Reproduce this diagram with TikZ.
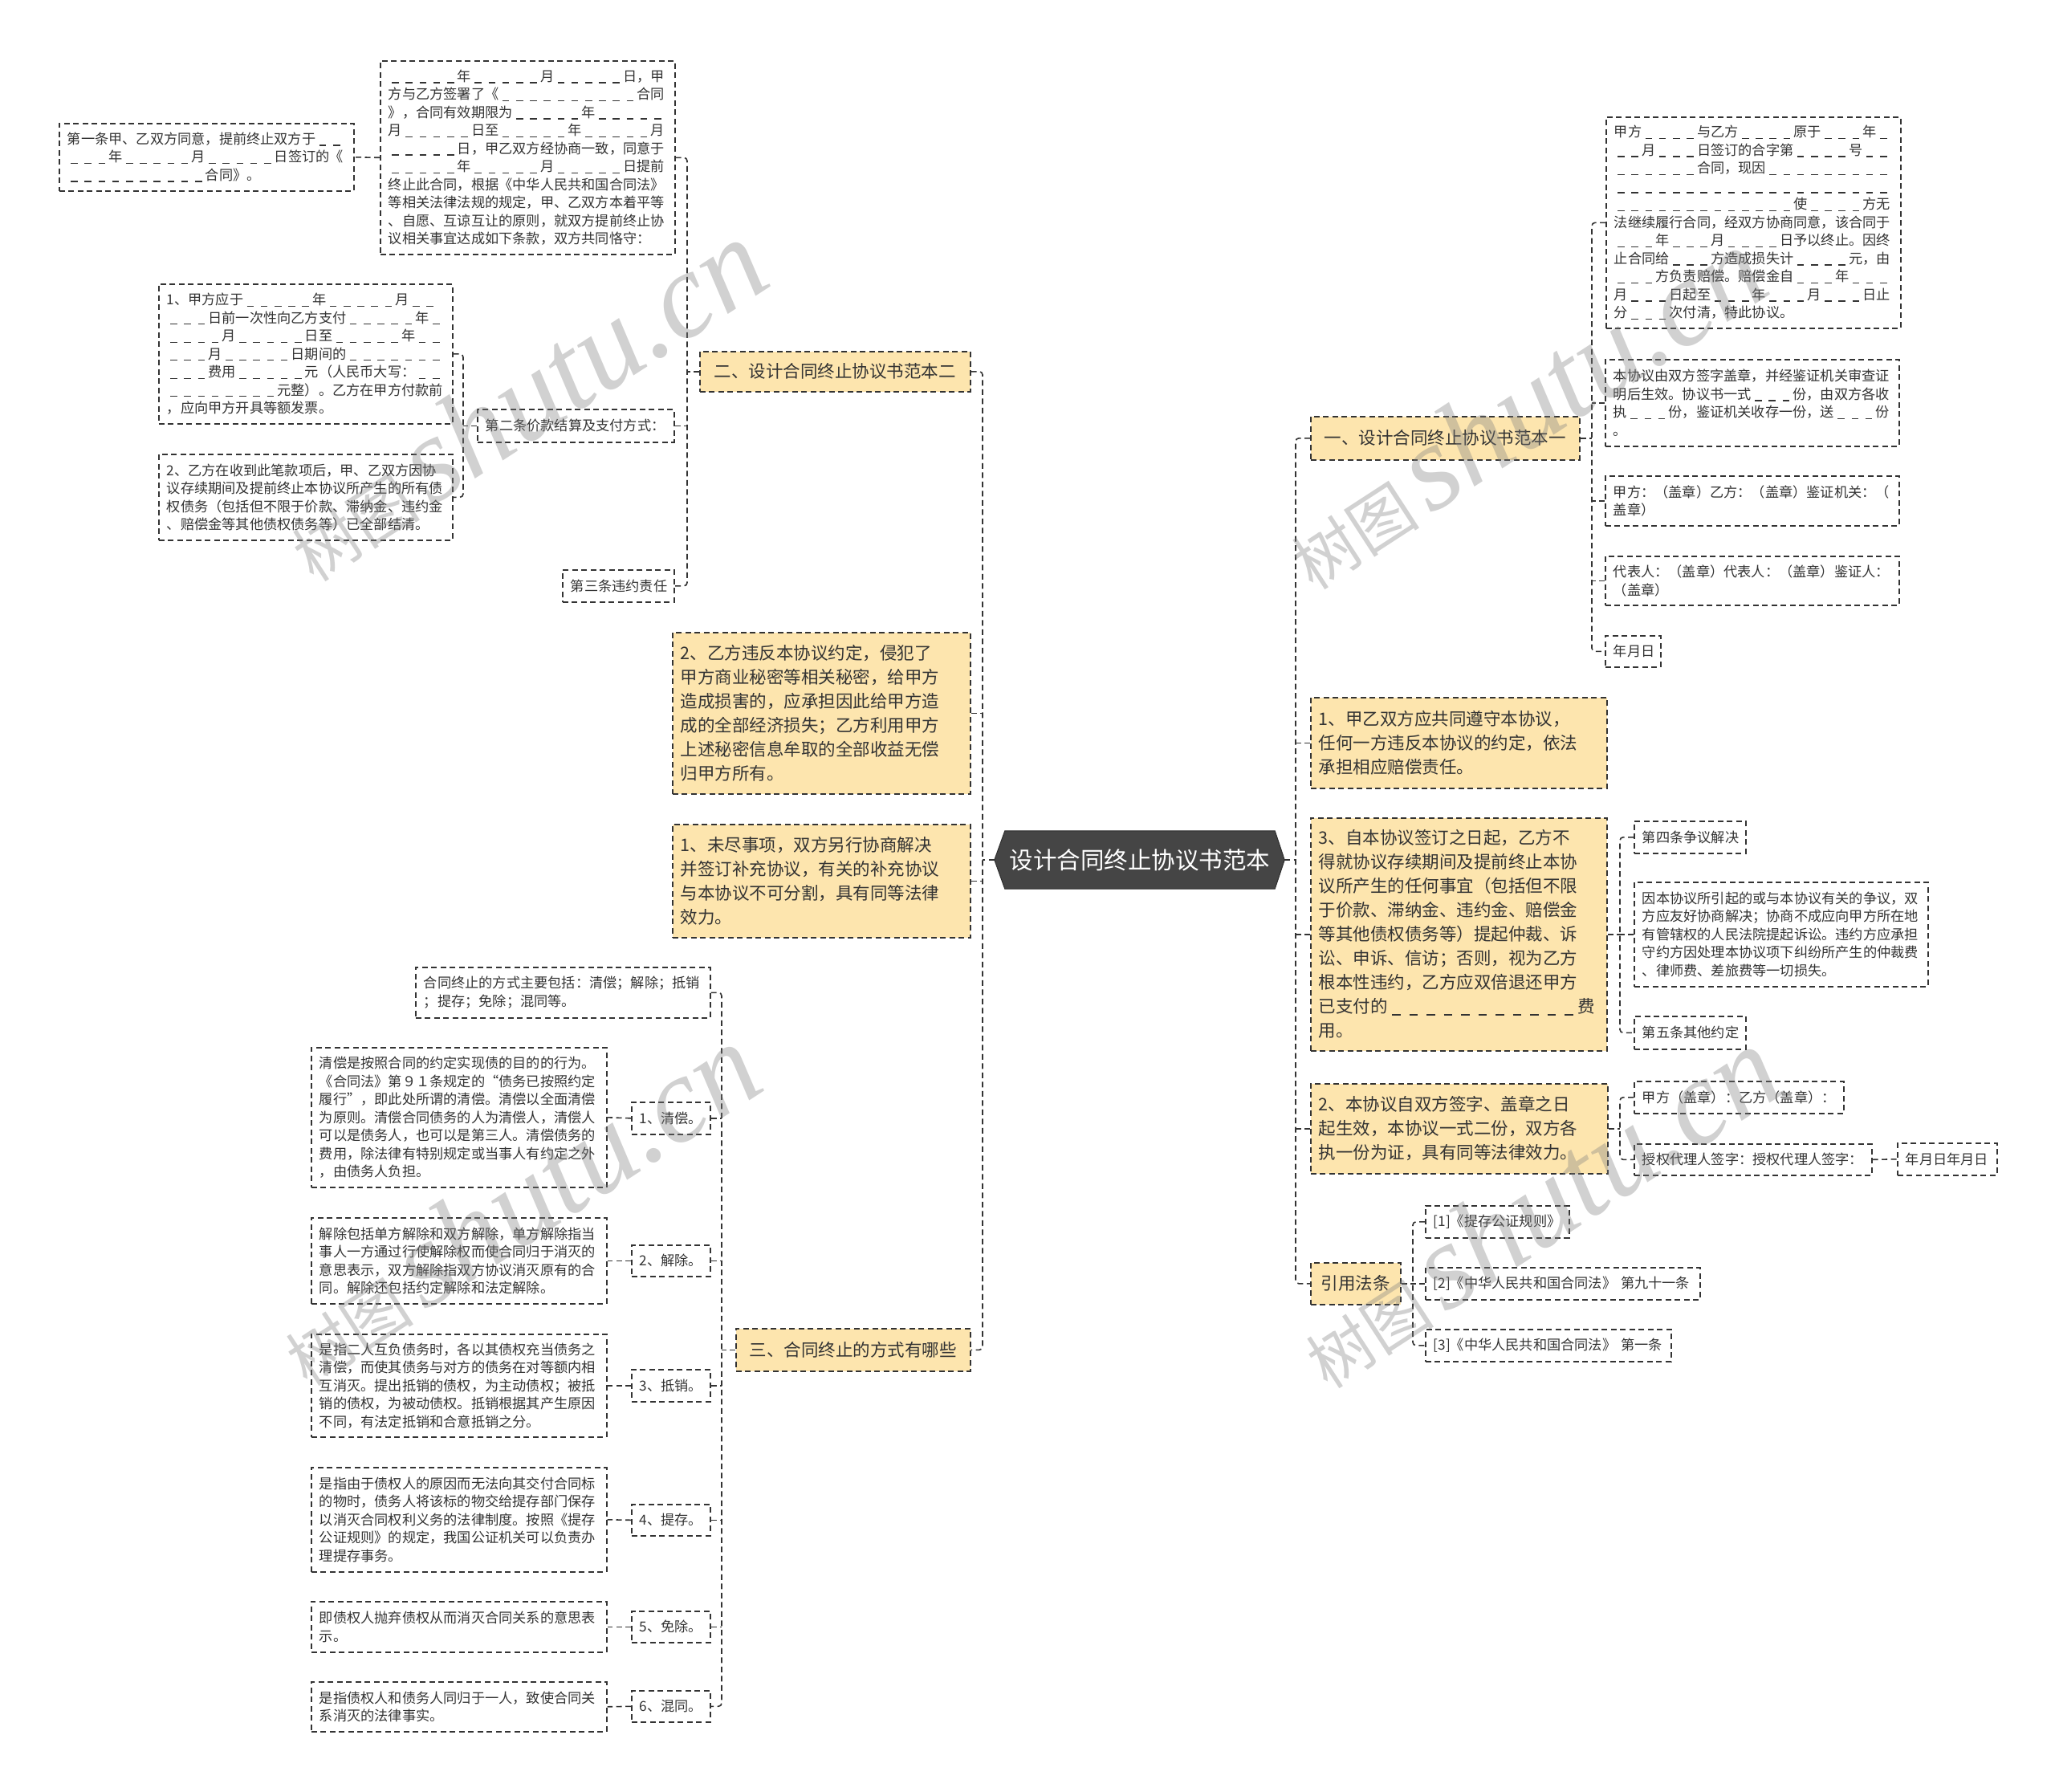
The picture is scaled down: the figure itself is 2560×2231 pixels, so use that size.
\documentclass[tikz,border=0pt]{standalone}
\usepackage{fontspec}
\setmainfont{Noto Sans CJK SC}
\newfontfamily\wmlat{Liberation Serif}
\usetikzlibrary{backgrounds}
\definecolor{linec}{HTML}{333333}
\definecolor{textc}{HTML}{333333}
\definecolor{yelc}{HTML}{FDE5AE}
\definecolor{ctrc}{HTML}{454545}
\definecolor{ctrd}{HTML}{2E2E2E}
\newcommand\us{\makebox[1em][c]{\rule[-0.13em]{0.5em}{0.075em}}}
\ExplSyntaxOn
\cs_new_protected:Npn \blk #1 { \prg_replicate:nn {#1} { \us } }
\ExplSyntaxOff
\tikzset{
 basebox/.style={draw=linec, line width=1.6pt, dash pattern=on 7pt off 4.5pt, text=textc, inner xsep=10pt, inner ysep=3pt, anchor=north west},
 plainbox/.style={basebox, fill=white, align=left, font=\fontsize{17.2}{22.5}\selectfont},
 yelbox/.style={basebox, fill=yelc, align=left, font=\fontsize{21.5}{30}\selectfont},
 lvlbox/.style={basebox, fill=yelc, align=center, font=\fontsize{21.5}{30}\selectfont},
 conn/.style={draw=linec, line width=1.6pt, dash pattern=on 7pt off 4.5pt, rounded corners=4pt},
 ctrbox/.style={minimum width=336pt, minimum height=72pt, inner sep=0pt, text=white, font=\fontsize{29.5}{32}\selectfont},
 wmk/.style={rotate=33, text=black!50, text opacity=0.36, inner sep=0pt},
}
\newcommand\bx[7]{%
 \pgfmathsetmacro\bxw{#5-#3}%
 \pgfmathsetmacro\bxh{#6-#4}%
 \pgfmathsetmacro\bxt{#5-#3-20}%
 \node[#2, minimum width=\bxw pt, minimum height=\bxh pt, text width=\bxt pt] (#1) at (#3,#4) {#7};}
\newcommand\wmark[3]{\node[wmk] (#1) at (#2,#3) {{\fontsize{80}{80}\selectfont 树图}\hspace{14pt}{\wmlat\itshape\fontsize{152}{152}\selectfont shutu.cn}};}
\begin{document}
\begin{tikzpicture}[x=1pt,y=-1pt]
\useasboundingbox (0,0) rectangle (2560,2231);
% centre
\node[ctrbox] (ctr) at (1420,1071) {设计合同终止协议书范本};
\begin{scope}[on background layer]
\fill[white] (0,0) rectangle (2560,2231);
\filldraw[fill=ctrc, draw=ctrd, line width=1pt] (ctr.north west) -- (ctr.north east) -- ([xshift=12pt]ctr.east) -- (ctr.south east) -- (ctr.south west) -- ([xshift=-13pt]ctr.west) -- cycle;
\end{scope}
\coordinate (cL) at ([xshift=-13pt]ctr.west);
\coordinate (cR) at ([xshift=12pt]ctr.east);
% trunk x positions
\coordinate (kA) at (1224,0);
\coordinate (kB) at (1614,0);
\coordinate (k1) at (856,0);
\coordinate (k2) at (577,0);
\coordinate (k3) at (899,0);
\coordinate (k4) at (1983,0);
\coordinate (k5) at (2018,0);
\coordinate (k6) at (1760,0);

% ---------- left side ----------
\bx{L1}{lvlbox}{871}{437}{1208}{487}{二、设计合同终止协议书范本二}
\bx{L2}{yelbox}{837}{787}{1208}{988}{2、乙方违反本协议约定，侵犯了\\甲方商业秘密等相关秘密，给甲方\\造成损害的，应承担因此给甲方造\\成的全部经济损失；乙方利用甲方\\上述秘密信息牟取的全部收益无偿\\归甲方所有。}
\bx{L3}{yelbox}{837}{1026}{1208}{1167}{1、未尽事项，双方另行协商解决\\并签订补充协议，有关的补充协议\\与本协议不可分割，具有同等法律\\效力。}
\bx{L4}{lvlbox}{916}{1654}{1208}{1707}{三、合同终止的方式有哪些}

\bx{w1}{plainbox}{73}{153}{440}{237}{第一条甲、乙双方同意，提前终止双方于\blk2\\\blk3年\blk5月\blk5日签订的《\\\blk{10}合同》。}
\bx{w2}{plainbox}{473}{75}{840}{316}{\blk5年\blk5月\blk5日，甲\\方与乙方签署了《\blk{10}合同\\》，合同有效期限为\blk5年\blk5\\月\blk5日至\blk5年\blk5月\\\blk5日，甲乙双方经协商一致，同意于\\\blk5年\blk5月\blk5日提前\\终止此合同，根据《中华人民共和国合同法》\\等相关法律法规的规定，甲、乙双方本着平等\\、自愿、互谅互让的原则，就双方提前终止协\\议相关事宜达成如下条款，双方共同恪守：}
\bx{w3}{plainbox}{197}{353}{563}{527}{1、甲方应于\blk5年\blk5月\blk2\\\blk3日前一次性向乙方支付\blk5年\blk1\\\blk4月\blk5日至\blk5年\blk2\\\blk3月\blk5日期间的\blk7\\\blk3费用\blk5元（人民币大写：\blk2\\\blk8元整）。乙方在甲方付款前\\，应向甲方开具等额发票。}
\bx{w4}{plainbox}{197}{565}{563}{672}{2、乙方在收到此笔款项后，甲、乙双方因协\\议存续期间及提前终止本协议所产生的所有债\\权债务（包括但不限于价款、滞纳金、违约金\\、赔偿金等其他债权债务等）已全部结清。}
\bx{w5}{plainbox}{594}{509}{839}{550}{第二条价款结算及支付方式：}
\bx{w6}{plainbox}{700}{709}{839}{749}{第三条违约责任}

\bx{t0}{plainbox}{517}{1204}{884}{1267}{合同终止的方式主要包括：清偿；解除；抵销\\；提存；免除；混同等。}
\bx{t1}{plainbox}{786}{1372}{884}{1412}{1、清偿。}
\bx{t2}{plainbox}{786}{1550}{884}{1589}{2、解除。}
\bx{t3}{plainbox}{786}{1705}{884}{1745}{3、抵销。}
\bx{t4}{plainbox}{786}{1873}{884}{1912}{4、提存。}
\bx{t5}{plainbox}{786}{2006}{884}{2045}{5、免除。}
\bx{t6}{plainbox}{786}{2105}{884}{2144}{6、混同。}
\bx{d1}{plainbox}{387}{1304}{755}{1478}{清偿是按照合同的约定实现债的目的的行为。\\《合同法》第９１条规定的“债务已按照约定\\履行”，即此处所谓的清偿。清偿以全面清偿\\为原则。清偿合同债务的人为清偿人，清偿人\\可以是债务人，也可以是第三人。清偿债务的\\费用，除法律有特别规定或当事人有约定之外\\，由债务人负担。}
\bx{d2}{plainbox}{387}{1516}{755}{1623}{解除包括单方解除和双方解除，单方解除指当\\事人一方通过行使解除权而使合同归于消灭的\\意思表示，双方解除指双方协议消灭原有的合\\同。解除还包括约定解除和法定解除。}
\bx{d3}{plainbox}{387}{1661}{755}{1789}{是指二人互负债务时，各以其债权充当债务之\\清偿，而使其债务与对方的债务在对等额内相\\互消灭。提出抵销的债权，为主动债权；被抵\\销的债权，为被动债权。抵销根据其产生原因\\不同，有法定抵销和合意抵销之分。}
\bx{d4}{plainbox}{387}{1827}{755}{1957}{是指由于债权人的原因而无法向其交付合同标\\的物时，债务人将该标的物交给提存部门保存\\以消灭合同权利义务的法律制度。按照《提存\\公证规则》的规定，我国公证机关可以负责办\\理提存事务。}
\bx{d5}{plainbox}{387}{1994}{755}{2057}{即债权人抛弃债权从而消灭合同关系的意思表\\示。}
\bx{d6}{plainbox}{387}{2094}{755}{2156}{是指债权人和债务人同归于一人，致使合同关\\系消灭的法律事实。}

% ---------- right side ----------
\bx{R1}{lvlbox}{1632}{518}{1967}{572}{一、设计合同终止协议书范本一}
\bx{R2}{yelbox}{1632}{868}{2001}{981}{1、甲乙双方应共同遵守本协议，\\任何一方违反本协议的约定，依法\\承担相应赔偿责任。}
\bx{R3}{yelbox}{1632}{1018}{2001}{1308}{3、自本协议签订之日起，乙方不\\得就协议存续期间及提前终止本协\\议所产生的任何事宜（包括但不限\\于价款、滞纳金、违约金、赔偿金\\等其他债权债务等）提起仲裁、诉\\讼、申诉、信访；否则，视为乙方\\根本性违约，乙方应双倍退还甲方\\已支付的\blk{11}费\\用。}
\bx{R4}{yelbox}{1632}{1349}{2002}{1461}{2、本协议自双方签字、盖章之日\\起生效，本协议一式二份，双方各\\执一份为证，具有同等法律效力。}
\bx{R5}{lvlbox}{1632}{1572}{1744}{1624}{引用法条}

\bx{r1}{plainbox}{2000}{145}{2367}{408}{甲方\blk4与乙方\blk4原于\blk3年\blk1\\\blk2月\blk3日签订的合字第\blk4号\blk2\\\blk6合同，现因\blk9\\\blk{20}\\\blk{13}使\blk4方无\\法继续履行合同，经双方协商同意，该合同于\\\blk3年\blk3月\blk4日予以终止。因终\\止合同给\blk3方造成损失计\blk4元，由\\\blk3方负责赔偿。赔偿金自\blk3年\blk3\\月\blk3日起至\blk3年\blk3月\blk3日止\\分\blk3次付清，特此协议。}
\bx{r2}{plainbox}{1999}{447}{2365}{555}{本协议由双方签字盖章，并经鉴证机关审查证\\明后生效。协议书一式\blk3份，由双方各收\\执\blk3份，鉴证机关收存一份，送\blk3份\\。}
\bx{r3}{plainbox}{1999}{592}{2365}{654}{甲方：（盖章）乙方：（盖章）鉴证机关：（\\盖章）}
\bx{r4}{plainbox}{1999}{692}{2365}{753}{代表人：（盖章）代表人：（盖章）鉴证人：\\（盖章）}
\bx{r5}{plainbox}{1999}{791}{2068}{830}{年月日}

\bx{s1}{plainbox}{2035}{1022}{2174}{1062}{第四条争议解决}
\bx{s2}{plainbox}{2035}{1098}{2401}{1228}{因本协议所引起的或与本协议有关的争议，双\\方应友好协商解决；协商不成应向甲方所在地\\有管辖权的人民法院提起诉讼。违约方应承担\\守约方因处理本协议项下纠纷所产生的仲裁费\\、律师费、差旅费等一切损失。}
\bx{s3}{plainbox}{2035}{1265}{2174}{1306}{第五条其他约定}

\bx{q1}{plainbox}{2035}{1346}{2296}{1386}{甲方（盖章）：乙方（盖章）：}
\bx{q2}{plainbox}{2035}{1424}{2331}{1463}{授权代理人签字：授权代理人签字：}
\bx{q3}{plainbox}{2363}{1423}{2487}{1463}{年月日年月日}

\bx{c1}{plainbox}{1775}{1501}{1954}{1541}{[1]《提存公证规则》}
\bx{c2}{plainbox}{1775}{1578}{2117}{1618}{[2]《中华人民共和国合同法》 第九十一条}
\bx{c3}{plainbox}{1775}{1655}{2081}{1695}{[3]《中华人民共和国合同法》 第一条}

% ---------- connectors ----------
% main left
\draw[conn] (cL) -- (cL -| kA);
\draw[conn] (L1.east) -- (L1.east -| kA) -- (L4.east -| kA) -- (L4.east);
\draw[conn] (L2.east) -- (L2.east -| kA);
\draw[conn] (L3.east) -- (L3.east -| kA);
% 二
\draw[conn] (L1.west) -- (L1.west -| k1);
\draw[conn] (w2.east) -- (w2.east -| k1) -- (w6.east -| k1) -- (w6.east);
\draw[conn] (w5.east) -- (w5.east -| k1);
\draw[conn] (w2.west) -- (w1.east);
% 第二条
\draw[conn] (w5.west) -- (w5.west -| k2);
\draw[conn] (w3.east) -- (w3.east -| k2) -- (w4.east -| k2) -- (w4.east);
% 三
\draw[conn] (L4.west) -- (L4.west -| k3);
\draw[conn] (t0.east) -- (t0.east -| k3) -- (t6.east -| k3) -- (t6.east);
\draw[conn] (t1.east) -- (t1.east -| k3);
\draw[conn] (t2.east) -- (t2.east -| k3);
\draw[conn] (t3.east) -- (t3.east -| k3);
\draw[conn] (t4.east) -- (t4.east -| k3);
\draw[conn] (t5.east) -- (t5.east -| k3);
\draw[conn] (t1.west) -- (d1.east);
\draw[conn] (t2.west) -- (d2.east);
\draw[conn] (t3.west) -- (d3.east);
\draw[conn] (t4.west) -- (d4.east);
\draw[conn] (t5.west) -- (d5.east);
\draw[conn] (t6.west) -- (d6.east);
% main right
\draw[conn] (cR) -- (cR -| kB);
\draw[conn] (R1.west) -- (R1.west -| kB) -- (R5.west -| kB) -- (R5.west);
\draw[conn] (R2.west) -- (R2.west -| kB);
\draw[conn] (R3.west) -- (R3.west -| kB);
\draw[conn] (R4.west) -- (R4.west -| kB);
% 一
\draw[conn] (R1.east) -- (R1.east -| k4);
\draw[conn] (r1.west) -- (r1.west -| k4) -- (r5.west -| k4) -- (r5.west);
\draw[conn] (r2.west) -- (r2.west -| k4);
\draw[conn] (r3.west) -- (r3.west -| k4);
\draw[conn] (r4.west) -- (r4.west -| k4);
% 3
\draw[conn] (R3.east) -- (R3.east -| k5);
\draw[conn] (s1.west) -- (s1.west -| k5) -- (s3.west -| k5) -- (s3.west);
\draw[conn] (s2.west) -- (s2.west -| k5);
% 2
\draw[conn] (R4.east) -- (R4.east -| k5);
\draw[conn] (q1.west) -- (q1.west -| k5) -- (q2.west -| k5) -- (q2.west);
\draw[conn] (q2.east) -- (q3.west);
% 引用法条
\draw[conn] (R5.east) -- (R5.east -| k6);
\draw[conn] (c1.west) -- (c1.west -| k6) -- (c3.west -| k6) -- (c3.west);
\draw[conn] (c2.west) -- (c2.west -| k6);

% ---------- watermarks ----------
\wmark{wm1}{652}{498}
\wmark{wm2}{1897}{508}
\wmark{wm3}{644}{1500}
\wmark{wm4}{1915}{1503}
\end{tikzpicture}
\end{document}
